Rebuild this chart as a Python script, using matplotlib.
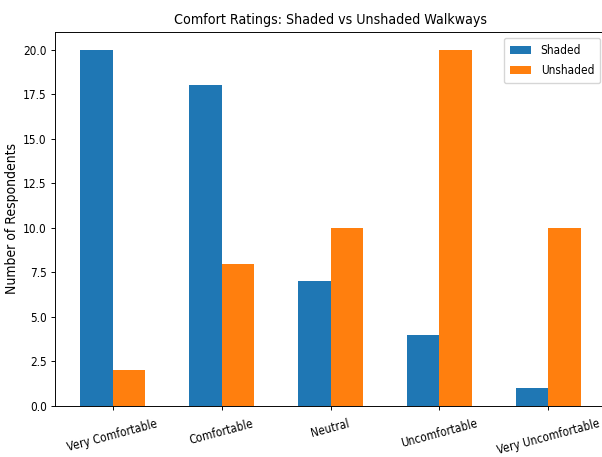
import numpy as np
import matplotlib.pyplot as plt

categories = ["Very Comfortable", "Comfortable", "Neutral", "Uncomfortable", "Very Uncomfortable"]
shaded = [20, 18, 7, 4, 1]
unshaded = [2, 8, 10, 20, 10]

# reference looks squeezed sideways, so use a condensed face and scale sizes down
s = 0.85
plt.rcParams['font.family'] = ['DejaVu Sans']
plt.rcParams['font.stretch'] = 'condensed'
plt.rcParams['font.size'] = 10 * s
plt.rcParams['axes.titlesize'] = 12 * s
plt.rcParams['axes.titlepad'] = 6 * s
plt.rcParams['axes.linewidth'] = 0.8 * s
for a in ['xtick', 'ytick']:
    plt.rcParams[a + '.major.size'] = 3.5 * s
    plt.rcParams[a + '.major.pad'] = 3.5 * s
    plt.rcParams[a + '.major.width'] = 0.8 * s

fig = plt.figure(figsize=(6.02, 4.57), dpi=100)
ax = fig.add_axes([55 / 602, 1 - 406 / 457, 551 / 602, 374 / 457])

x = np.arange(len(categories))
w = 0.3
ax.bar(x - w / 2, shaded, w, label="Shaded", color="#1f77b4")
ax.bar(x + w / 2, unshaded, w, label="Unshaded", color="#ff7f0e")

ax.set_xticks(x)
ax.set_xticklabels(categories, rotation=15)
ax.tick_params(axis='x', pad=5)
ax.set_ylabel("Number of Respondents", fontsize=10, labelpad=3)
ax.set_title("Comfort Ratings: Shaded vs Unshaded Walkways", pad=6)
ax.legend(loc="upper right", labelspacing=0.65, borderpad=0.5, handlelength=1.8)

fig.savefig("out.png", dpi=100)
